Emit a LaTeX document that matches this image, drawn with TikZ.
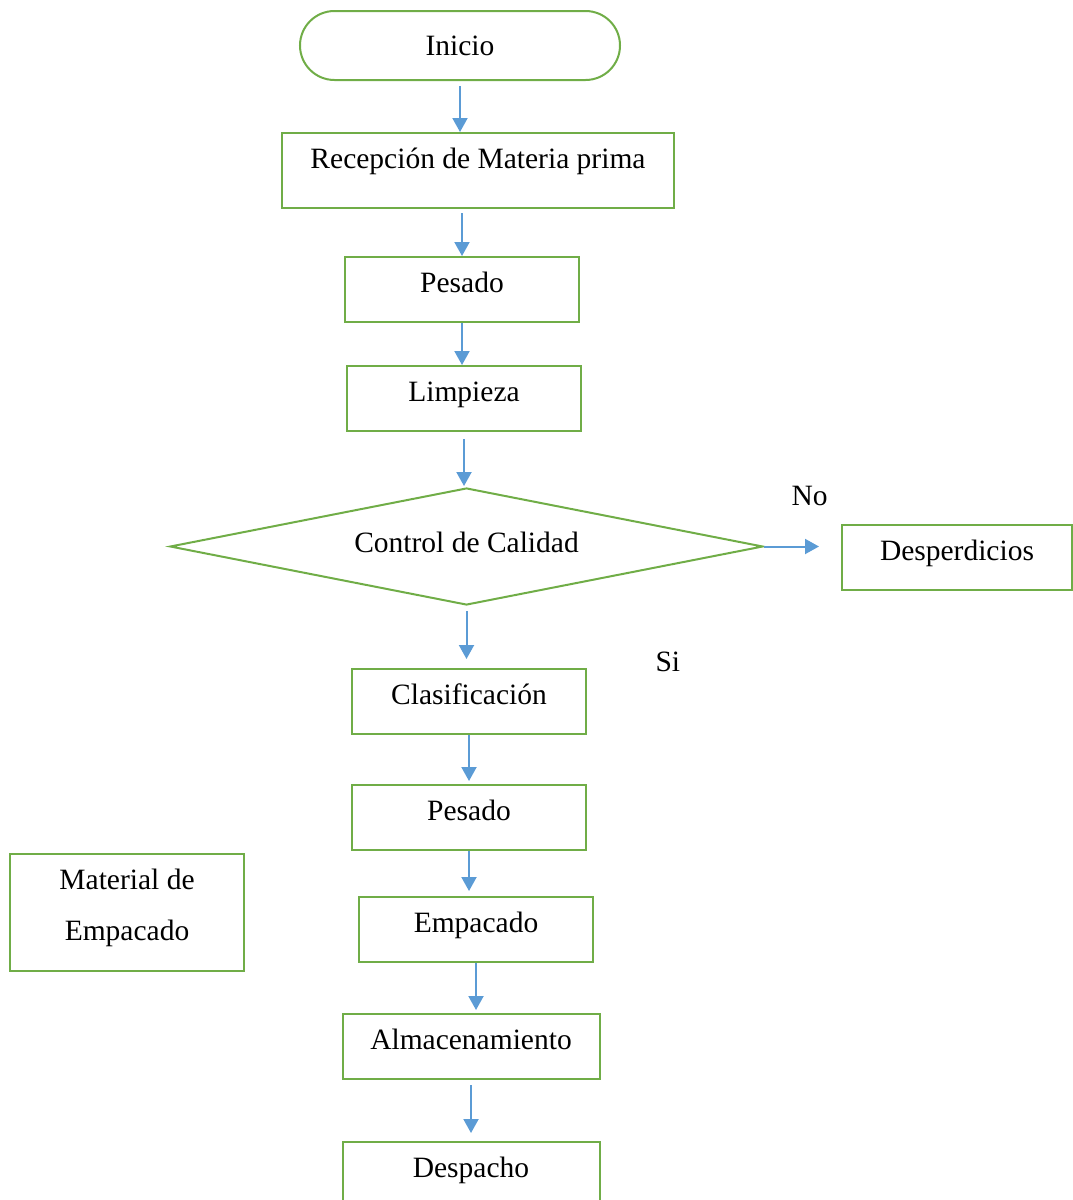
\documentclass[tikz,border=0pt]{standalone}
\usepackage{fontspec}
\setmainfont{Liberation Serif}
\usetikzlibrary{shapes.geometric,arrows.meta}

\definecolor{verde}{RGB}{112,173,71}
\definecolor{azul}{RGB}{91,155,213}

\tikzset{
	caja/.style={draw=verde, line width=0.8pt, inner sep=0pt, minimum width=93.6pt,
		text height=14pt, text depth=12pt},
	terminal/.style={draw=verde, line width=0.8pt, rounded corners=13.8pt, inner sep=0pt,
		minimum width=128pt, minimum height=27.6pt},
	decision/.style={draw=verde, line width=0.8pt, diamond, aspect=5, inner sep=0pt,
		minimum width=237.2pt, minimum height=46.8pt, text height=8pt, text depth=3.2pt},
	etiqueta/.style={inner sep=0pt, anchor=base west},
	flecha/.style={draw=azul, line width=0.8pt, -{Triangle[length=5.6pt,width=6pt]}}
}

\begin{document}
\begin{tikzpicture}[x=0.4pt, y=-0.4pt, font=\fontsize{11.8pt}{14pt}\selectfont]
	\useasboundingbox (0,0) rectangle (1073,1200);
	\clip (0,0) rectangle (1073,1200);
	
	% Nodos del diagrama
	\node[terminal] (inicio) at (460,45.5) {Inicio};
	\node[caja, minimum width=156.8pt, text depth=16pt] (recepcion) at (478,132) [anchor=north] {Recepción de Materia prima};
	\node[caja, anchor=north] (pesado) at (462,256) {Pesado};
	\node[caja, anchor=north] (limpieza) at (464,365) {Limpieza};
	\node[decision] (control) at (466.5,546.5) {Control de Calidad};
	\node[caja, minimum width=92pt, anchor=north] (desperdicios) at (957,524) {Desperdicios};
	\node[caja, anchor=north] (clasificacion) at (469,668) {Clasificación};
	\node[caja, anchor=north] (pesadob) at (469,784) {Pesado};
	\node[caja, anchor=north] (empacado) at (476,896) {Empacado};
	\node[caja, minimum width=102.8pt, anchor=north] (almacen) at (471,1013) {Almacenamiento};
	\node[caja, minimum width=102.8pt, anchor=north] (despacho) at (471,1141) {Despacho};
	\node[caja, align=center, text height=34.4pt, text depth=12.4pt, anchor=north,
		font=\fontsize{11.8pt}{20.4pt}\selectfont] (material) at (127,853) {Material de\\Empacado};
	
	% Etiquetas de la decision
	\node[etiqueta] (no) at (791,505) {No};
	\node[etiqueta] (si) at (655,671.7) {Si};
	
	% Flechas
	\draw[flecha, shorten <=2pt] (inicio.south) -- (inicio.south |- recepcion.north);
	\draw[flecha, shorten <=1.6pt] (pesado.north |- recepcion.south) -- (pesado.north);
	\foreach \a/\b/\ini/\fin in {
		pesado/limpieza/0/0,
		limpieza/control/2.8/0.4,
		control/clasificacion/2/3.6,
		clasificacion/pesadob/0/1.2,
		pesadob/empacado/0/2,
		empacado/almacen/0/1.2,
		almacen/despacho/2/3.2} {
		\draw[flecha, shorten <=\ini pt, shorten >=\fin pt] (\a.south) -- (\a.south |- \b.north);
	}
	\draw[flecha, shorten >=8.8pt] (control.east) -- (control.east -| desperdicios.west);
\end{tikzpicture}
\end{document}
